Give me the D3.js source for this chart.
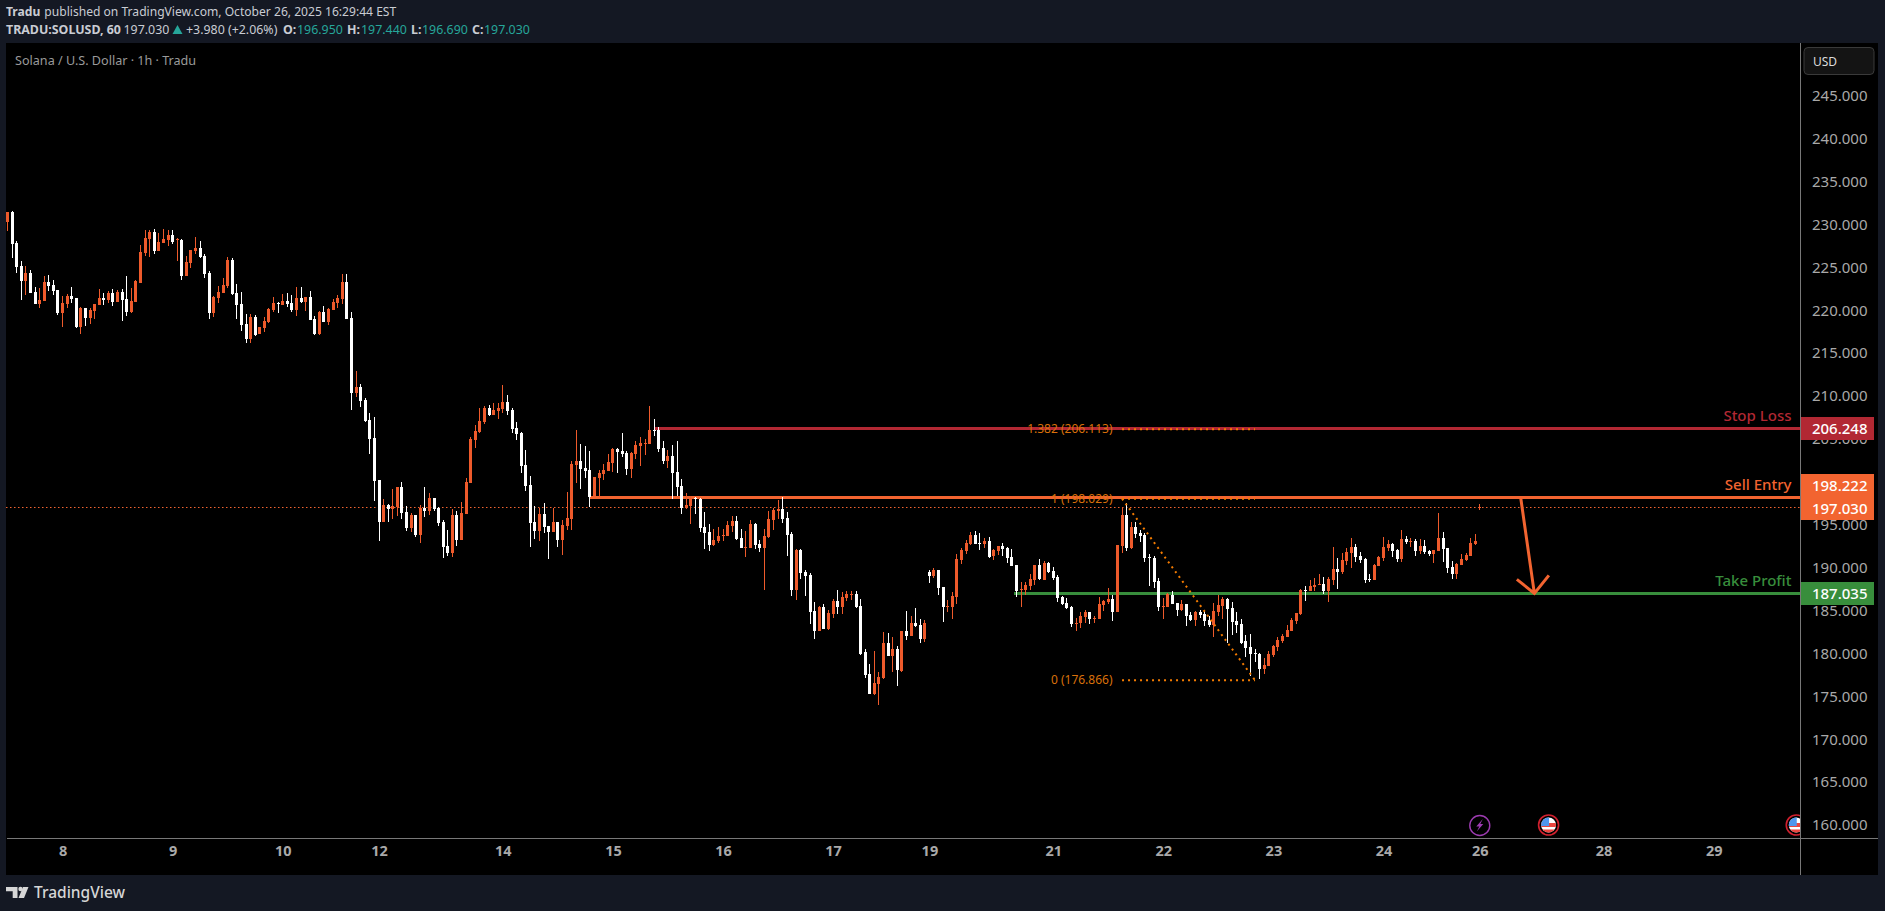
<!DOCTYPE html>
<html><head><meta charset="utf-8">
<script src="https://cdn.jsdelivr.net/npm/d3@7/dist/d3.min.js"></script>
<style>
html,body{margin:0;padding:0;background:#141823;overflow:hidden}
svg{display:block}
text{font-family:"Noto Sans",sans-serif}
</style></head><body><svg id="c" width="1885" height="911"></svg>
<script>
const opens=[230.31,231.44,227.83,225.15,223.4,224.33,222.08,220.72,221.07,223.28,
222.93,222.35,219.67,220.72,221.65,221.42,218.04,220.25,219.09,219.9,
220.6,221.42,221.18,222.0,220.95,222.12,221.3,219.79,220.95,223.17,
226.66,228.29,229.11,226.9,227.83,228.18,228.76,228.18,228.18,223.98,
225.5,226.9,227.25,226.31,224.33,219.67,221.42,222.0,222.82,225.85,
222.0,220.72,218.39,216.64,219.2,217.22,217.92,218.62,220.02,220.84,
220.6,221.07,220.84,220.02,221.42,220.95,221.53,218.97,217.22,219.79,
218.62,220.02,220.84,221.3,223.28,219.09,210.35,211.05,209.54,207.21,
205.11,200.21,195.32,197.3,196.83,197.07,199.4,196.48,194.62,196.13,
193.8,196.95,196.6,198.12,196.95,195.32,192.52,191.71,196.13,193.22,
196.25,199.86,204.88,205.81,206.97,208.61,207.79,208.26,208.49,209.3,
208.37,206.27,205.69,201.96,199.63,195.32,194.27,196.25,194.85,194.15,
195.32,193.22,194.85,195.67,201.96,202.43,201.61,201.38,198.35,200.45,
200.91,201.26,202.2,203.83,203.59,203.36,201.5,203.24,204.18,204.41,
204.41,206.04,206.04,203.94,202.43,203.01,201.15,199.51,196.95,197.18,
198.12,198.0,194.74,194.15,192.64,193.1,193.69,193.69,194.85,195.44,
193.45,192.29,192.29,195.09,192.75,192.29,193.57,195.55,196.6,196.83,
195.78,193.92,187.39,192.06,189.49,189.14,184.95,182.62,185.41,182.85,
184.59,186.1,185.4,186.45,186.8,186.92,185.52,180.16,177.6,175.27,
176.43,177.13,181.21,179.69,180.51,177.95,182.61,182.02,183.54,183.31,
181.67,189.48,189.02,189.72,187.74,185.4,185.4,186.57,190.88,191.93,
192.75,193.8,192.86,192.75,193.1,191.35,191.93,192.51,192.28,191.23,
190.3,187.39,187.39,187.85,188.55,190.3,188.55,190.53,189.6,188.9,
186.57,185.87,185.4,183.42,183.54,184.24,184.82,184.01,184.01,185.64,
185.99,186.34,184.82,192.51,196.13,192.28,194.73,194.03,193.8,191.23,
191.11,188.43,185.4,185.4,186.8,185.87,185.05,185.75,184.47,183.89,
184.82,184.59,183.89,183.31,184.82,185.52,186.34,185.29,183.77,183.42,
181.44,180.74,180.04,179.93,178.18,178.53,179.81,180.74,181.44,181.91,
182.61,183.77,184.55,187.39,187.27,187.74,187.97,188.09,187.27,188.55,
189.84,189.49,190.77,191.7,192.4,191.35,191.0,188.67,188.55,190.19,
191.12,192.28,192.75,192.05,191.0,193.33,192.98,193.1,191.93,192.52,
191.93,191.59,191.93,193.45,192.28,190.07,189.25,190.3,190.89,191.35,
192.75,196.95];
const highs=[231.44,231.56,228.02,225.73,225.15,224.68,222.66,222.58,223.98,224.1,
223.52,222.35,221.65,221.88,222.7,221.42,220.37,220.25,220.25,220.72,
222.47,222.0,222.23,222.47,222.35,222.47,223.98,222.58,223.52,227.59,
229.34,229.34,229.46,228.99,229.46,229.34,229.34,228.41,228.29,226.31,
227.01,228.53,228.06,226.55,224.56,221.65,222.82,223.75,226.2,226.08,
223.05,222.12,219.55,219.55,219.44,218.04,219.2,220.25,221.53,220.95,
221.88,222.0,221.77,222.7,222.7,221.53,222.23,219.32,219.9,220.49,
220.25,221.3,221.77,224.22,224.22,219.79,212.91,211.4,209.77,208.02,
207.56,200.21,198.0,197.42,199.17,199.4,199.98,197.18,196.37,196.13,
197.3,199.4,198.7,198.12,197.07,195.55,194.39,196.83,196.6,197.65,
200.45,205.23,206.62,208.61,208.84,208.96,209.19,209.19,211.29,210.12,
208.61,206.97,205.81,203.71,200.68,197.18,196.95,197.53,194.85,196.95,
195.32,195.55,198.82,202.43,206.04,204.41,204.18,203.59,200.56,201.38,
202.08,203.24,203.94,203.94,205.69,203.59,203.48,204.76,205.23,204.99,
208.84,207.32,206.39,204.76,203.71,204.29,204.76,200.33,198.7,198.35,
198.23,198.12,196.48,195.09,194.5,194.74,194.5,195.44,196.02,196.02,
194.5,194.27,195.55,195.2,193.22,194.5,196.6,196.95,197.88,198.23,
196.48,194.15,192.17,192.17,189.72,189.37,185.99,185.53,185.76,185.06,
186.34,187.39,187.15,187.27,187.27,187.27,186.34,180.51,178.76,180.28,
177.83,182.49,182.37,181.91,180.86,182.61,184.94,184.35,185.29,184.01,
183.89,189.72,189.95,189.72,187.74,186.22,187.15,191.58,192.28,193.21,
194.15,194.26,194.03,193.45,193.56,192.16,192.51,192.86,192.4,192.16,
190.3,188.32,188.32,189.25,190.3,190.99,190.77,190.65,190.07,189.13,
186.69,186.45,185.52,184.12,184.82,185.05,184.82,184.35,186.57,186.22,
187.62,186.8,192.63,197.06,197.53,195.31,195.31,194.38,194.03,191.58,
191.35,188.78,186.45,187.04,187.27,185.87,186.22,185.75,184.82,184.94,
185.05,184.94,184.35,185.87,186.8,186.57,186.45,185.99,184.82,184.01,
182.14,182.26,180.51,180.04,179.46,180.28,180.98,181.91,182.26,183.31,
184.12,184.7,187.51,187.86,188.55,188.79,189.25,188.9,188.9,192.4,
191.12,191.7,192.28,193.45,192.75,191.82,191.12,189.25,190.42,191.35,
193.57,193.22,192.87,192.17,194.38,193.68,193.45,193.33,193.33,193.22,
192.05,192.05,196.36,194.15,192.28,190.77,190.54,191.59,191.7,193.45,
193.92,197.44];
const lows=[229.27,226.12,224.37,221.22,221.77,222.0,220.72,220.25,221.07,222.23,
221.77,219.44,218.04,220.25,220.84,217.92,217.22,218.15,218.39,218.97,
220.6,220.6,220.84,220.49,220.95,218.74,219.32,219.67,220.95,223.17,
226.31,226.2,226.55,226.9,227.83,227.48,227.71,225.73,223.52,223.98,
224.91,226.55,226.08,223.75,218.97,219.2,220.84,222.0,222.58,221.77,
218.97,217.57,216.17,216.17,216.99,217.22,217.46,218.5,219.79,219.67,
220.6,220.37,219.79,219.32,220.84,219.9,218.85,217.1,217.1,218.62,
218.27,220.02,220.25,220.72,218.97,208.37,209.88,208.71,206.97,203.24,
197.77,193.1,195.32,195.32,195.67,196.02,195.67,194.27,194.15,193.57,
192.87,195.9,196.13,196.6,194.85,191.12,191.36,191.24,192.52,193.22,
196.25,199.86,203.94,205.69,206.74,207.67,207.79,207.32,208.02,207.79,
205.69,204.88,201.03,198.93,192.41,193.34,193.1,194.04,191.01,194.15,
192.41,191.47,194.39,194.39,199.86,199.17,200.45,197.07,198.35,198.35,
200.21,201.26,201.15,201.03,202.89,200.8,200.45,202.66,201.85,203.13,
204.41,205.34,203.48,202.08,201.61,198.0,198.35,196.25,196.83,195.09,
196.25,194.15,192.17,191.94,192.52,192.87,193.1,193.69,194.15,193.22,
192.29,191.24,192.29,192.17,191.82,187.39,193.45,194.39,195.67,195.2,
191.36,186.69,186.23,188.68,186.69,183.43,181.68,182.62,182.85,182.73,
184.12,184.59,184.59,186.1,186.22,185.29,179.81,177.13,175.27,175.15,
173.98,177.01,179.69,177.83,176.2,177.83,181.56,182.02,183.07,181.21,
181.33,188.2,188.78,186.8,183.66,184.82,184.01,185.75,190.42,191.58,
192.63,192.75,192.05,192.28,191.11,190.88,191.46,191.35,190.53,190.18,
186.57,185.4,186.8,187.39,187.97,188.55,188.55,189.37,188.55,185.99,
185.64,185.17,183.07,182.61,182.96,183.54,183.42,183.54,184.01,184.94,
185.75,183.77,184.82,191.7,191.93,192.16,193.45,192.98,190.65,187.85,
187.62,184.94,184.01,185.4,185.75,184.35,184.94,183.19,183.77,183.19,
184.12,183.19,183.07,181.91,184.35,184.01,181.21,182.14,182.37,181.09,
179.58,177.36,178.99,177.01,177.6,178.53,179.58,180.28,181.21,181.91,
182.61,183.42,184.48,186.11,187.27,187.27,187.97,186.92,185.99,187.97,
187.51,189.25,190.3,189.95,190.65,190.54,188.2,188.32,188.55,190.19,
190.77,191.93,191.24,190.65,190.65,192.75,192.4,191.35,191.59,191.59,
191.35,190.54,191.93,190.65,189.37,188.67,188.67,190.3,190.77,191.35,
192.63,196.69];
const closes=[231.44,227.71,225.07,223.4,224.33,222.0,220.72,221.18,223.28,222.82,
222.23,219.67,220.84,221.65,221.3,218.04,220.25,219.09,220.02,220.72,
221.42,221.18,222.0,220.95,222.12,221.18,219.79,221.07,223.4,226.78,
228.41,229.11,226.9,227.94,228.29,228.76,227.94,228.29,223.98,225.61,
227.01,227.25,226.2,224.22,219.67,221.53,222.12,222.93,225.85,221.88,
220.6,218.27,216.64,219.2,217.1,218.04,218.74,220.14,220.84,220.8,
221.07,220.72,220.02,221.42,220.95,221.53,218.85,217.22,219.79,218.62,
220.14,220.95,221.42,223.28,218.97,210.35,211.05,209.41,207.09,204.99,
200.1,195.32,197.3,196.83,197.18,199.4,196.37,194.62,196.13,193.8,
196.95,196.6,198.12,196.83,195.2,192.41,191.71,196.13,193.22,196.37,
199.98,204.99,205.92,207.09,208.61,207.79,208.37,208.61,209.3,208.26,
206.16,205.58,201.85,199.51,195.2,194.27,196.25,194.74,194.15,195.32,
193.22,194.97,195.78,202.08,202.43,201.5,201.26,198.23,200.56,201.03,
201.38,202.31,203.83,203.48,203.24,201.5,203.36,204.29,204.53,204.53,
206.04,205.92,203.83,202.43,203.01,201.03,199.4,196.95,197.3,198.0,
198.0,194.62,194.04,192.64,193.22,193.69,193.8,194.97,195.44,193.34,
192.29,192.41,195.09,192.64,192.29,193.69,195.67,196.72,196.83,195.67,
193.8,187.39,192.06,189.37,189.02,184.83,182.62,185.41,182.85,184.71,
186.1,185.4,186.57,186.92,186.92,185.4,179.93,177.48,175.27,176.55,
177.25,181.21,179.69,180.51,178.06,182.61,182.02,183.54,183.19,181.67,
183.54,189.02,189.72,187.62,185.4,185.52,186.69,190.99,192.05,192.86,
193.8,192.75,192.75,193.1,191.23,192.05,192.51,192.16,191.11,190.18,
187.27,187.5,187.97,188.67,190.3,188.67,190.53,189.48,188.78,186.45,
185.75,185.29,183.42,183.54,184.35,184.82,184.01,184.12,185.75,186.1,
186.34,184.82,192.63,196.13,192.28,194.73,193.91,193.68,191.11,191.11,
188.32,185.4,185.52,186.92,185.75,185.05,185.75,184.35,183.89,184.82,
184.47,183.77,183.31,184.94,185.64,186.34,185.17,183.66,183.31,181.21,
180.63,179.93,179.93,178.18,178.65,179.93,180.86,181.56,182.02,182.72,
183.89,184.7,187.39,187.27,187.86,187.97,188.09,187.27,188.67,189.84,
189.49,190.89,191.82,192.4,191.24,190.89,188.55,188.63,190.3,191.24,
192.4,192.75,191.93,191.0,193.33,192.98,193.1,191.93,192.52,191.82,
191.59,192.05,193.45,192.17,189.95,189.25,190.42,191.0,191.47,192.87,
193.1,197.03];

const xTickIndex=[12,36,60,81,108,132,156,180,201,228,252,276,300,321,348,372];
const xTickLabels=["8","9","10","12","14","15","16","17","19","21","22","23","24","26","28","29"];
const yTickValues=[160,165,170,175,180,185,190,195,205,210,215,220,225,230,235,240,245];

const levelNames=["Stop Loss","Sell Entry","Take Profit"];
const levelPrices=[206.248,198.222,187.035];
const levelStart=[141,127,219.5];
const levelColors=["#b22833","#f26430","#388e3c"];
const lastPrice=197.03;

const fibRatios=["1.382","1","0"];
const fibPrices=[206.113,198.029,176.866];
const fibFrom=243, fibTo=272;
const arrowFrom=[329.9,198.222], arrowTo=[332.9,187.0];

const eventIdx=[321,336,390];

const svg=d3.select("#c");
svg.append("rect").attr("x",6).attr("y",43).attr("width",1872).attr("height",832).attr("fill","#000");
const defs=svg.append("defs");
defs.append("clipPath").attr("id","plot").append("rect").attr("x",6).attr("y",43).attr("width",1795).attr("height",795);

const x=d3.scaleLinear().domain([0,372]).range([7.5,1713.7]);
const y=d3.scaleLinear().domain([160,245]).range([825,95.7]);
const rnd=v=>Math.round(v);
const upCol="#ee5a2b", downCol="#ffffff";
const candles=opens.map((o,i)=>({i,o,h:highs[i],l:lows[i],c:closes[i]}));

const plot=svg.append("g").attr("clip-path","url(#plot)");

// last price dotted line
plot.append("line").attr("x1",6).attr("x2",1801).attr("y1",rnd(y(lastPrice))+0.5).attr("y2",rnd(y(lastPrice))+0.5)
 .attr("stroke","#f26430").attr("stroke-width",1).attr("stroke-dasharray","1.5 2.5");

// horizontal levels sit beneath the candles
const lv=plot.append("g").attr("shape-rendering","crispEdges");
levelPrices.forEach((p,k)=>{
  lv.append("line").attr("x1",x(levelStart[k])).attr("x2",1801).attr("y1",rnd(y(p))+0.5).attr("y2",rnd(y(p))+0.5)
    .attr("stroke",levelColors[k]).attr("stroke-width",3);
  plot.append("text").attr("x",1791.5).attr("y",rnd(y(p))-7.5).attr("text-anchor","end")
    .attr("font-size",15).attr("font-weight",500).attr("fill",levelColors[k]).text(levelNames[k]);
});

// candles
const cg=plot.append("g").attr("shape-rendering","crispEdges");
cg.selectAll("rect.w").data(candles).join("rect").attr("class","w")
 .attr("x",d=>Math.floor(x(d.i))).attr("width",1)
 .attr("y",d=>rnd(y(d.h))).attr("height",d=>Math.max(1,rnd(y(d.l))-rnd(y(d.h))))
 .attr("fill",d=>d.c>=d.o?upCol:downCol);
cg.selectAll("rect.b").data(candles).join("rect").attr("class","b")
 .attr("x",d=>Math.floor(x(d.i))-1).attr("width",3)
 .attr("y",d=>rnd(y(Math.max(d.o,d.c)))).attr("height",d=>Math.max(1,rnd(y(Math.min(d.o,d.c)))-rnd(y(Math.max(d.o,d.c)))))
 .attr("fill",d=>d.c>=d.o?upCol:downCol);

// fib
const fibCol="#f57c00";
fibPrices.forEach((p,k)=>{
  plot.append("line").attr("x1",x(fibFrom)).attr("x2",x(fibTo)).attr("y1",y(p)).attr("y2",y(p))
   .attr("stroke",fibCol).attr("stroke-width",2).attr("stroke-dasharray","2 4");
  plot.append("text").attr("x",x(fibFrom)-9.5).attr("y",y(p)+4).attr("text-anchor","end")
   .attr("font-size",12).attr("fill","#d9700a").text(fibRatios[k]+" ("+p.toFixed(3)+")");
});
plot.append("line").attr("x1",x(fibFrom)).attr("x2",x(fibTo)).attr("y1",y(fibPrices[1])).attr("y2",y(fibPrices[2]))
 .attr("stroke",fibCol).attr("stroke-width",2).attr("stroke-dasharray","2 4");

// arrow
const ax1=x(arrowFrom[0]),ay1=y(arrowFrom[1]),ax2=x(arrowTo[0]),ay2=y(arrowTo[1]);
const arrow=d3.path();
arrow.moveTo(ax1,ay1);arrow.lineTo(ax2,ay2);
arrow.moveTo(ax2-17.5,ay2-14);arrow.lineTo(ax2,ay2);arrow.lineTo(ax2+14.5,ay2-18);
plot.append("path").attr("d",arrow.toString()).attr("fill","none").attr("stroke","#f26430").attr("stroke-width",3);

// events
const evY=825;
function flag(cx){
  const id="fl"+Math.round(cx);
  defs.append("clipPath").attr("id",id).append("circle").attr("cx",cx).attr("cy",evY).attr("r",7.5);
  const g=plot.append("g");
  const f=g.append("g").attr("clip-path","url(#"+id+")");
  f.append("rect").attr("x",cx-8).attr("y",evY-8).attr("width",16).attr("height",16).attr("fill","#fff");
  f.append("rect").attr("x",cx-8).attr("y",evY-2).attr("width",16).attr("height",4).attr("fill","#e9453f");
  f.append("rect").attr("x",cx-8).attr("y",evY+4.5).attr("width",16).attr("height",4).attr("fill","#e9453f");
  f.append("rect").attr("x",cx-8).attr("y",evY-8).attr("width",8.5).attr("height",9).attr("fill","#4f97ee");
  g.append("circle").attr("cx",cx).attr("cy",evY).attr("r",10).attr("fill","none").attr("stroke","#d0202e").attr("stroke-width",1.6);
}
const ecx=x(eventIdx[0]);
plot.append("circle").attr("cx",ecx).attr("cy",evY+0.5).attr("r",10).attr("fill","#000").attr("stroke","#9c3bb0").attr("stroke-width",1.4);
plot.append("path").attr("d",`M${ecx+3},${evY-6}L${ecx-3.5},${evY+1.5}H${ecx-0.5}L${ecx-3},${evY+6.5}L${ecx+3.5},${evY-1}H${ecx+0.5}Z`).attr("fill","#9c3bb0");
flag(x(eventIdx[1]));flag(x(eventIdx[2]));

// axes
const yAxis=d3.axisRight(y).tickValues(yTickValues).tickFormat(d3.format(".3f")).tickSize(0).tickPadding(11);
const gy=svg.append("g").attr("transform","translate(1801,0)").call(yAxis);
gy.select(".domain").remove();
gy.selectAll("text").attr("font-size",15).attr("font-family",'"Noto Sans",sans-serif').attr("fill","#a9a9a9");

const xAxis=d3.axisBottom(x).tickValues(xTickIndex).tickFormat((d,i)=>xTickLabels[i]).tickSize(0).tickPadding(8);
const gx=svg.append("g").attr("transform","translate(0,838)").call(xAxis);
gx.select(".domain").remove();
gx.selectAll("text").attr("font-size",14.5).attr("font-weight",700).attr("font-family",'"Noto Sans",sans-serif').attr("fill","#a9a9a9");

const fr=svg.append("g").attr("shape-rendering","crispEdges");
fr.append("line").attr("x1",7).attr("x2",1878).attr("y1",838.5).attr("y2",838.5).attr("stroke","#787878");
fr.append("line").attr("x1",1800.5).attr("x2",1800.5).attr("y1",43).attr("y2",875).attr("stroke","#787878");

// price labels on axis
const tagH=23;
const tagRows=[[levelPrices[0],"#b22833"],[levelPrices[1],"#f26430"],[lastPrice,"#f26430"],[levelPrices[2],"#388e3c"]];
const tagCy=[428.5,485.5,508,593.5];
tagRows.forEach((r,k)=>{
  svg.append("rect").attr("x",1801).attr("y",tagCy[k]-11.5).attr("width",73).attr("height",tagH).attr("fill",r[1]).attr("shape-rendering","crispEdges");
});
tagRows.forEach((r,k)=>{
  svg.append("text").attr("x",1867.5).attr("y",tagCy[k]+5.5).attr("text-anchor","end").attr("font-size",15).attr("font-weight",500).attr("fill","#fff").text(r[0].toFixed(3));
});

// USD button
svg.append("rect").attr("x",1804).attr("y",47.5).attr("width",70).attr("height",27).attr("rx",4).attr("fill","#141414").attr("stroke","#3a3a3a");
svg.append("text").attr("x",1813).attr("y",66).attr("font-size",12).attr("fill","#dcdcdc").text("USD");

// title
svg.append("text").attr("x",15).attr("y",64.5).attr("font-size",12.6).attr("fill","#9a9a9a").text("Solana / U.S. Dollar · 1h · Tradu");

// header
const hd="#c9ccd3", teal="#26a69a";
const h1=svg.append("text").attr("x",6).attr("y",16).attr("font-size",12.1).attr("fill",hd);
h1.append("tspan").attr("font-weight",700).text("Tradu");
h1.append("tspan").attr("dx",4).text("published on TradingView.com, October 26, 2025 16:29:44 EST");
const hdrParts=[[6,"TRADU:SOLUSD, 60",hd,700],[123.5,"197.030",hd,400],[186,"+3.980 (+2.06%)",hd,400],
[283,"O:",hd,700],[297,"196.950",teal,400],[347,"H:",hd,700],[361,"197.440",teal,400],[411,"L:",hd,700],[422,"196.690",teal,400],[472,"C:",hd,700],[484,"197.030",teal,400]];
hdrParts.forEach(p=>svg.append("text").attr("x",p[0]).attr("y",33.5).attr("font-size",12.4).attr("fill",p[2]).attr("font-weight",p[3]).text(p[1]));
svg.append("path").attr("d","M172.5,34L177.5,25L182.5,34Z").attr("fill",teal);

// logo
const lc="#d6d6d6";
svg.append("path").attr("fill",lc).attr("d","M6,887H17.5V898H12.7V891.2H6Z");
svg.append("circle").attr("cx",20.5).attr("cy",889).attr("r",2.2).attr("fill",lc);
svg.append("path").attr("fill",lc).attr("d","M23,887H28.5L24,898H18.5Z");
svg.append("text").attr("x",34).attr("y",898).attr("font-size",15.5).attr("font-family","Inter,sans-serif").attr("font-weight",500).attr("fill",lc).text("TradingView");
</script></body></html>
